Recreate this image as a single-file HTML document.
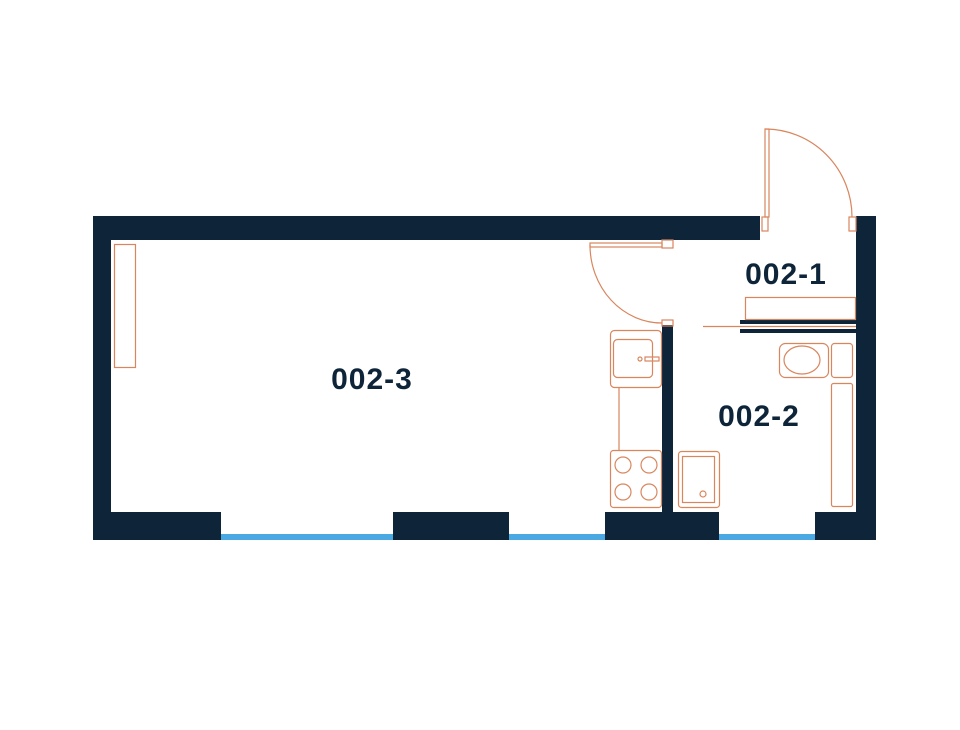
<!DOCTYPE html>
<html><head><meta charset="utf-8"><style>html,body{margin:0;padding:0;background:#fff}svg{display:block}</style></head>
<body>
<svg width="960" height="730" viewBox="0 0 960 730" xmlns="http://www.w3.org/2000/svg">
<rect width="960" height="730" fill="#fff"/>
<g fill="#0e2439">
<rect x="93" y="216" width="667" height="24"/>
<rect x="856" y="216" width="20" height="324"/>
<rect x="93" y="216" width="18" height="324"/>
<rect x="93" y="512" width="128" height="28"/>
<rect x="393" y="512" width="116" height="28"/>
<rect x="605" y="512" width="114" height="28"/>
<rect x="815" y="512" width="61" height="28"/>
<rect x="662" y="325" width="11" height="187"/>
<rect x="740" y="320" width="116" height="4"/>
<rect x="740" y="329" width="116" height="4"/>
</g>
<g fill="#4aa8e2">
<rect x="221" y="534" width="172" height="6"/>
<rect x="509" y="534" width="96" height="6"/>
<rect x="719" y="534" width="96" height="6"/>
</g>
<g fill="none" stroke="#d9865e" stroke-width="1.2">
<rect x="114.5" y="244.5" width="21" height="123"/>
<line x1="703" y1="326.5" x2="856" y2="326.5"/>
<rect x="745.5" y="297.5" width="110" height="22"/>
<rect x="765" y="129" width="4" height="88"/>
<rect x="762" y="217" width="6" height="14"/>
<rect x="849" y="217" width="7" height="14"/>
<path d="M765 129 A87 88 0 0 1 852 217"/>
<rect x="590" y="243" width="72" height="4"/>
<rect x="662" y="240" width="11" height="8"/>
<rect x="662" y="320" width="11" height="6"/>
<path d="M590 245 A72 78 0 0 0 662 323"/>
<rect x="610.5" y="330.5" width="51" height="57" rx="4"/>
<rect x="613.5" y="339.5" width="39" height="38" rx="4"/>
<circle cx="640" cy="359" r="2"/>
<rect x="645" y="357" width="14" height="4"/>
<line x1="619" y1="388" x2="619" y2="450"/>
<rect x="610.5" y="450.5" width="51" height="57" rx="3"/>
<circle cx="623" cy="465" r="8"/><circle cx="649" cy="465" r="8"/>
<circle cx="623" cy="492" r="8"/><circle cx="649" cy="492" r="8"/>
<rect x="678.5" y="451.5" width="41" height="56" rx="3"/>
<rect x="682.5" y="456.5" width="32" height="46"/>
<circle cx="703" cy="494" r="3"/>
<rect x="779.5" y="343.5" width="49" height="34" rx="6"/>
<ellipse cx="802" cy="360" rx="18" ry="14"/>
<rect x="831.5" y="343.5" width="21" height="34" rx="3"/>
<rect x="831.5" y="383.5" width="21" height="123" rx="2"/>
</g>
<g font-family="Liberation Sans, sans-serif" font-weight="bold" font-size="30" fill="#0e2439" text-anchor="middle" letter-spacing="1">
<text x="372" y="389">002-3</text>
<text x="786" y="284">002-1</text>
<text x="759" y="426">002-2</text>
</g>
</svg>
</body></html>
